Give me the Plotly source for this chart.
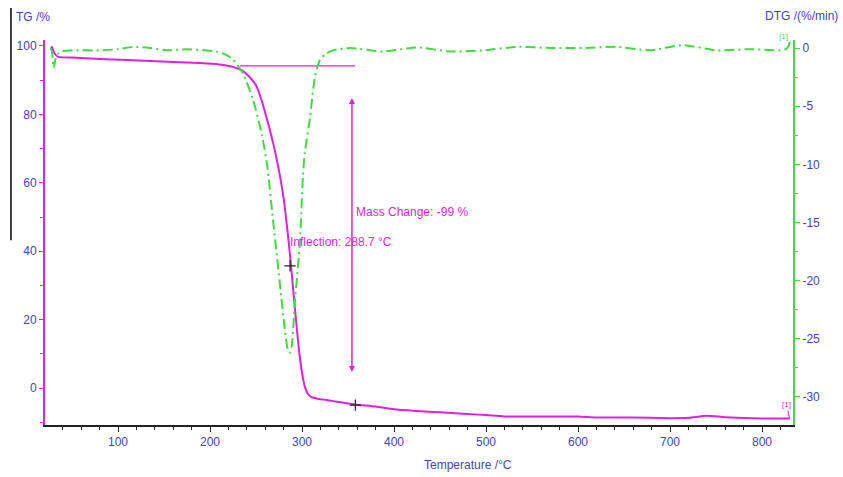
import plotly.graph_objects as go

# ---- data ----
tg_temp = [27, 28, 31, 35, 50, 80, 110, 135, 160, 189, 210, 225, 235, 243.5, 250, 255,
           260, 265, 270, 275, 280, 285, 288, 291, 294, 297, 300, 303, 306, 310, 318,
           327, 340, 358, 380, 400, 425, 450, 475, 500, 520, 560, 600, 620, 660, 700,
           720, 740, 760, 800, 830]
tg_val = [99.0, 99.8, 97.8, 96.8, 96.6, 96.2, 95.9, 95.6, 95.3, 95.0, 94.6, 93.9, 92.8,
          90.8, 88.5, 85.0, 80.5, 75.5, 70.0, 63.5, 55.5, 44.0, 36.0, 27.0, 18.5, 10.5,
          4.5, 0.5, -1.5, -2.6, -3.2, -3.5, -4.1, -4.8, -5.4, -6.2, -6.7, -7.1, -7.5,
          -7.9, -8.3, -8.3, -8.3, -8.6, -8.6, -8.8, -8.7, -8.1, -8.5, -8.9, -8.9]

dtg_temp = [27, 28.5, 30, 32, 35, 39, 50, 80, 100, 116, 135, 153, 175, 195, 207, 218, 225,
            236, 247, 256.5, 262, 268.5, 276, 281, 284.8, 287, 289, 292.4, 297.8, 301,
            303, 308.7, 314, 319.6, 326, 333.7, 352, 388, 425, 461, 497, 534, 570, 605,
            642, 678, 714, 751, 787, 820, 826, 829, 831, 832]
dtg_val = [0.0, -0.5, -1.7, -1.0, -0.5, -0.3, -0.2, -0.2, -0.1, 0.1, 0.0, -0.2, -0.1,
           -0.2, -0.3, -0.6, -1.0, -2.2, -4.5, -7.5, -10.0, -14.8, -20.3, -24.0, -26.0,
           -26.2, -25.5, -21.7, -16.6, -11.0, -9.0, -6.0, -2.5, -1.0, -0.5, -0.2, 0.0,
           -0.3, 0.05, -0.3, -0.2, 0.1, 0.0, 0.0, 0.1, -0.2, 0.25, -0.2, -0.1, -0.2,
           -0.1, 0.2, 0.8, 1.0]

inflection_temp = [287.0]
inflection_tg = [35.7]
end_point_temp = [358.0]
end_point_tg = [-5.0]

step_level = 94.2          # horizontal reference level (TG %)
step_temp = [232.6, 357.6]
arrow_temp = 354.3
arrow_tg = [84.8, 4.7]

x_ticks = [100, 200, 300, 400, 500, 600, 700, 800]
tg_ticks = [0, 20, 40, 60, 80, 100]
dtg_ticks = [0, -5, -10, -15, -20, -25, -30]
dtg_tick_text = ["0", "-5", "-10", "-15", "-20", "-25", "-30"]

MAG = "#e21ee2"
GRN = "#3fdc3f"
BLUE = "#4343c4"
FONT = "Liberation Sans, Arial, sans-serif"

fig = go.Figure()
fig.add_trace(go.Scatter(x=dtg_temp, y=dtg_val, yaxis="y2", mode="lines",
                         line=dict(color=GRN, width=2, dash="10px,4px,2px,4px",
                                   shape="spline", smoothing=0.6),
                         showlegend=False, hoverinfo="skip"))
fig.add_trace(go.Scatter(x=tg_temp, y=tg_val, mode="lines",
                         line=dict(color=MAG, width=2, shape="spline", smoothing=0.6),
                         showlegend=False, hoverinfo="skip"))
fig.add_trace(go.Scatter(x=step_temp, y=[step_level, step_level], mode="lines",
                         line=dict(color=MAG, width=1.2), showlegend=False, hoverinfo="skip"))
fig.add_trace(go.Scatter(x=inflection_temp + end_point_temp, y=inflection_tg + end_point_tg,
                         mode="markers",
                         marker=dict(symbol="cross-thin", size=8,
                                     line=dict(color="#222222", width=1.2)),
                         showlegend=False, hoverinfo="skip"))

# double-headed arrow for mass change
for y0, y1 in [(arrow_tg[0], arrow_tg[1]), (arrow_tg[1], arrow_tg[0])]:
    fig.add_annotation(x=arrow_temp, y=y0, ax=arrow_temp, ay=y1, xref="x", yref="y",
                       axref="x", ayref="y", showarrow=True, text="",
                       arrowhead=2, arrowsize=1.2, arrowwidth=1, arrowcolor=MAG)

fig.add_annotation(x=arrow_temp + 2, y=51.5, xref="x", yref="y", text="Mass Change: -99 %",
                   showarrow=False, xanchor="left", font=dict(color=MAG, size=12, family=FONT))
fig.add_annotation(x=284.5, y=42.7, xref="x", yref="y", text="Inflection: 288.7 °C",
                   showarrow=False, xanchor="left", font=dict(color=MAG, size=12, family=FONT))
fig.add_annotation(x=830, y=-8.9, xref="x", yref="y", ax=-3, ay=-14, text="[1]",
                   showarrow=True, arrowhead=0, arrowwidth=1, arrowcolor=MAG, standoff=0,
                   font=dict(color=MAG, size=8, family=FONT))
fig.add_annotation(x=0.9965, y=1.01, xref="paper", yref="paper", text="[1]", showarrow=False,
                   xanchor="right", yanchor="middle", font=dict(color=GRN, size=8, family=FONT))

# axis titles
fig.add_annotation(x=-0.041, y=1.06, xref="paper", yref="paper", text="TG /%",
                   showarrow=False, xanchor="left", yanchor="middle",
                   font=dict(color=BLUE, size=12, family=FONT))
fig.add_annotation(x=1.063, y=1.062, xref="paper", yref="paper", text="DTG /(%/min)",
                   showarrow=False, xanchor="right", yanchor="middle",
                   font=dict(color=BLUE, size=12, family=FONT))
fig.add_annotation(x=0.565, y=-0.104, xref="paper", yref="paper", text="Temperature /°C",
                   showarrow=False, xanchor="center", yanchor="middle",
                   font=dict(color=BLUE, size=12, family=FONT))

# stray black line on the left (present in the reference)
fig.add_shape(type="line", xref="paper", yref="paper", x0=-0.0455, x1=-0.0455,
              y0=1.083, y1=0.48, line=dict(color="black", width=1.5))

fig.update_layout(
    width=843, height=477,
    margin=dict(l=45, r=50, t=40, b=52, autoexpand=False),
    paper_bgcolor="white", plot_bgcolor="white",
    font=dict(family=FONT, size=12, color=BLUE),
    xaxis=dict(range=[20.65, 833.7], tickvals=x_ticks, showgrid=False, zeroline=False,
               showline=True, linecolor="#222222", linewidth=1.5, automargin=False,
               ticks="outside", ticklen=5, tickcolor="#222222",
               minor=dict(dtick=20, tick0=0, ticklen=3, ticks="outside", tickcolor="#222222"),
               tickfont=dict(color=BLUE, size=12)),
    yaxis=dict(range=[-10.8, 101.75], tickvals=tg_ticks, showgrid=False, zeroline=False,
               showline=True, linecolor=MAG, linewidth=2, automargin=False,
               ticks="outside", ticklen=4, tickcolor=MAG,
               minor=dict(dtick=10, tick0=0, ticklen=3, ticks="outside", tickcolor=MAG),
               tickfont=dict(color=BLUE, size=12)),
    yaxis2=dict(range=[-32.41, 0.69], tickvals=dtg_ticks, ticktext=dtg_tick_text,
                overlaying="y", side="right",
                showgrid=False, zeroline=False, showline=True, linecolor=GRN, linewidth=2,
                automargin=False, ticks="outside", ticklen=5, tickcolor=GRN,
                minor=dict(dtick=2.5, tick0=0, ticklen=3, ticks="outside", tickcolor=GRN),
                tickfont=dict(color=BLUE, size=12)),
)

fig.write_html("out.html", config={"displayModeBar": False},
               post_script="document.body.style.margin='0px';")
